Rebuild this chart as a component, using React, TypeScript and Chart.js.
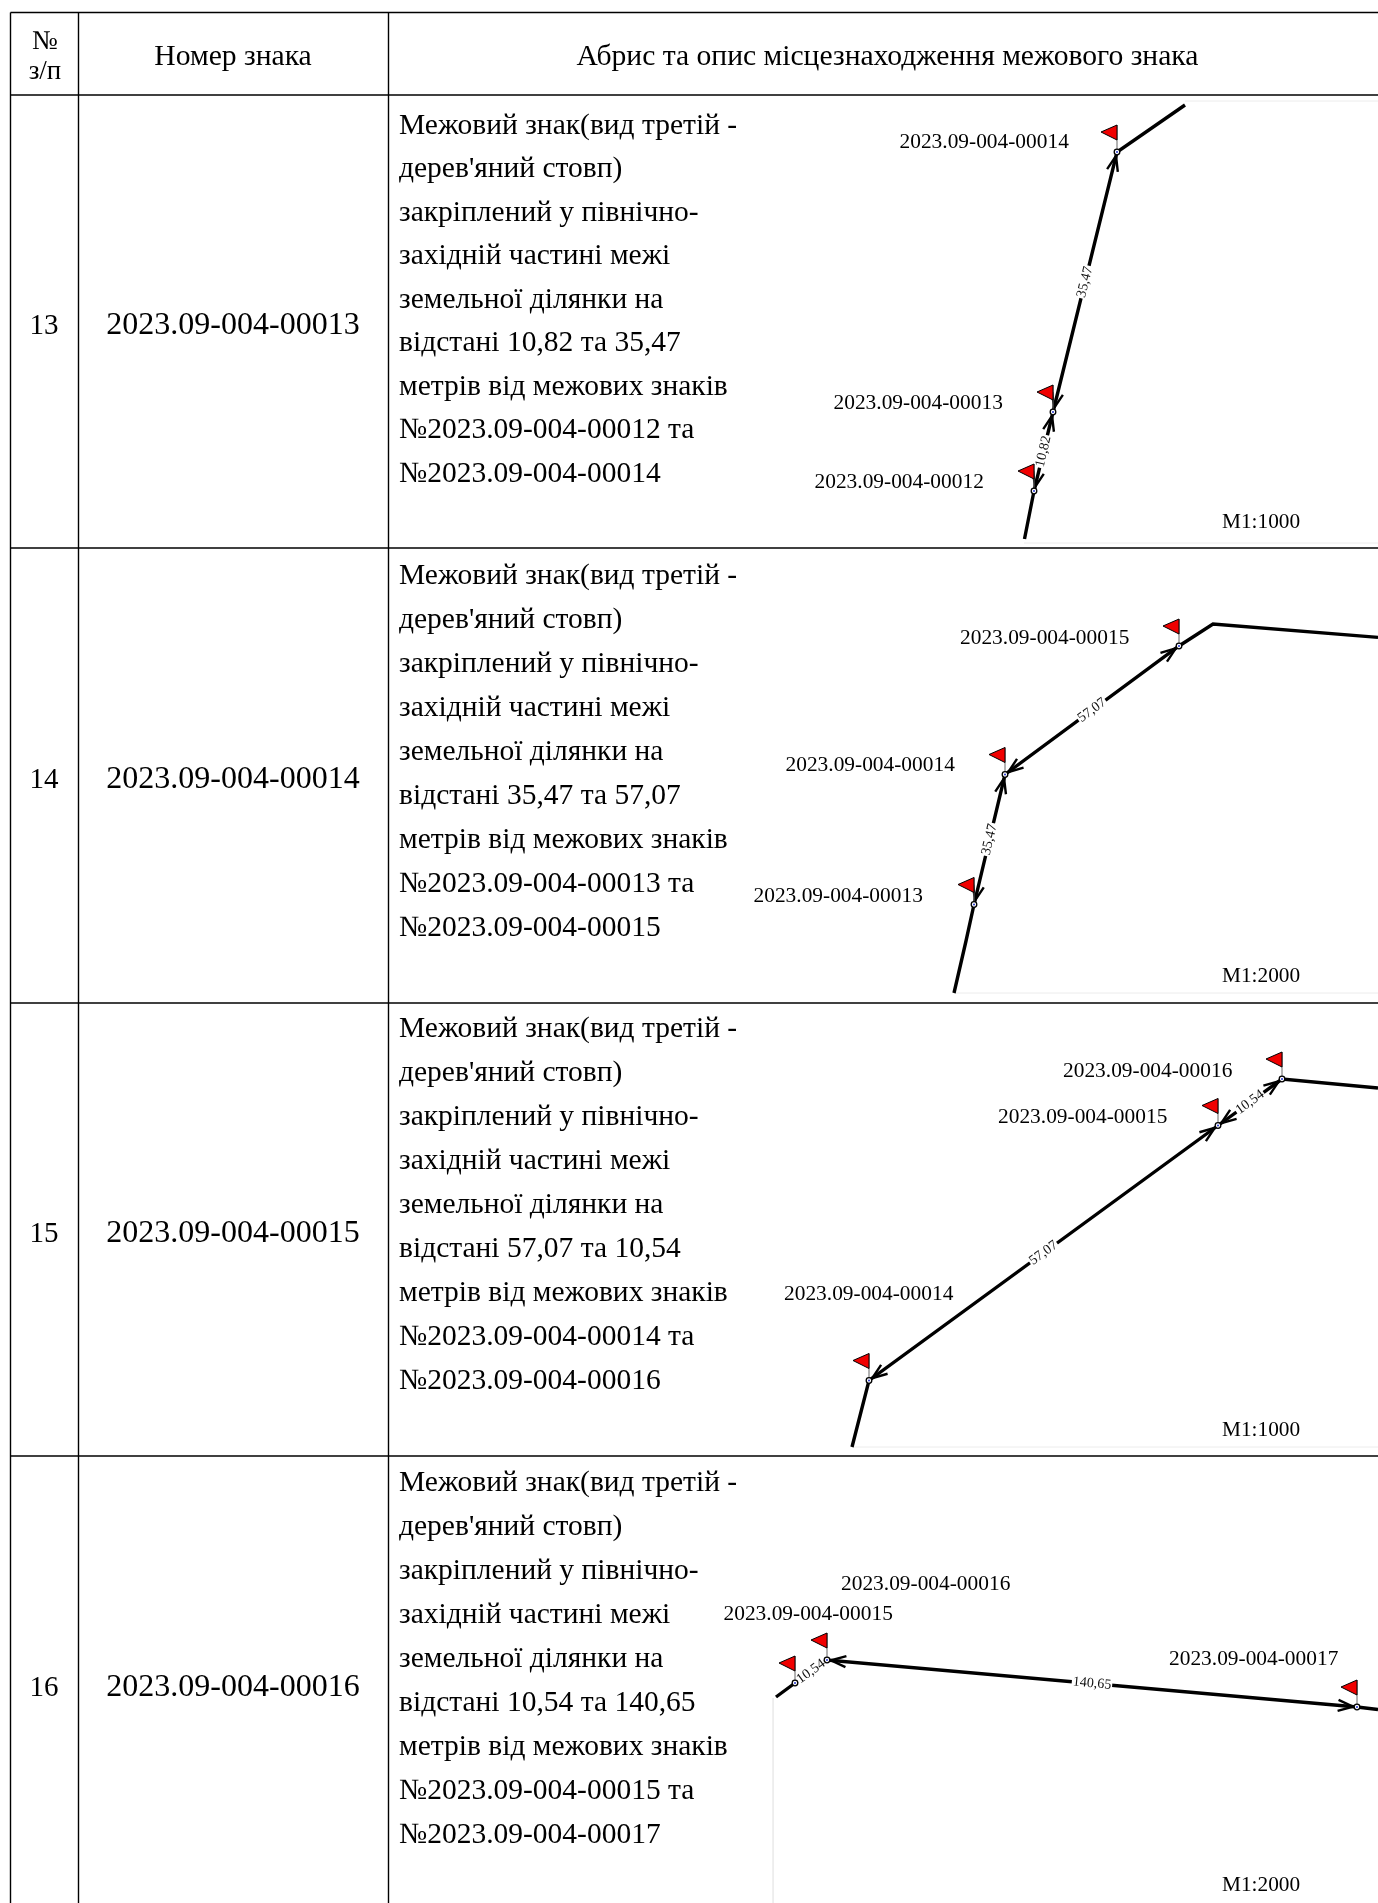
import React, { useEffect, useRef } from "react";
import { Chart, registerables } from "chart.js";

Chart.register(...registerables);

type P = [number, number];

// Table rules
const columnRules = [10.5, 78.5, 388.5];
const rowRules = [12.5, 95, 548, 1003, 1456];
const PAGE_W = 1378;
const PAGE_H = 1903;

// Header
const headNo = ["№", "з/п"];
const headMark = "Номер знака";
const headSketch = "Абрис та опис місцезнаходження межового знака";

// Row contents
const rowNumbers = ["13", "14", "15", "16"];
const rowCodes = ["2023.09-004-00013", "2023.09-004-00014", "2023.09-004-00015", "2023.09-004-00016"];
const rowCentres = [326, 780, 1234, 1688];
const textTops = [126, 576.5, 1029, 1483];
const textPitches = [43.5, 44, 44, 44];

const descriptions = [
  ["Межовий знак(вид третій -", "дерев'яний стовп)", "закріплений у північно-", "західній частині межі", "земельної ділянки на", "відстані 10,82 та 35,47", "метрів від межових знаків", "№2023.09-004-00012 та", "№2023.09-004-00014"],
  ["Межовий знак(вид третій -", "дерев'яний стовп)", "закріплений у північно-", "західній частині межі", "земельної ділянки на", "відстані 35,47 та 57,07", "метрів від межових знаків", "№2023.09-004-00013 та", "№2023.09-004-00015"],
  ["Межовий знак(вид третій -", "дерев'яний стовп)", "закріплений у північно-", "західній частині межі", "земельної ділянки на", "відстані 57,07 та 10,54", "метрів від межових знаків", "№2023.09-004-00014 та", "№2023.09-004-00016"],
  ["Межовий знак(вид третій -", "дерев'яний стовп)", "закріплений у північно-", "західній частині межі", "земельної ділянки на", "відстані 10,54 та 140,65", "метрів від межових знаків", "№2023.09-004-00015 та", "№2023.09-004-00017"],
];

// Boundary polylines
const boundary13: P[] = [[1024.5, 539], [1034, 491], [1053, 412], [1117, 152], [1185, 105]];
const boundary14: P[] = [[954, 993], [966, 941], [974, 904.5], [1005, 774.5], [1179, 646], [1213, 624], [1378, 637.4]];
const boundary15: P[] = [[852, 1447], [869, 1380.5], [1218, 1125.5], [1282, 1079], [1378, 1088]];
const boundary16: P[] = [[776, 1697], [795, 1683], [827, 1660], [1357, 1707], [1378, 1709.5]];
const boundaries = [boundary13, boundary14, boundary15, boundary16];

// Faint edges of the pasted sketches
const sketchEdges: P[][] = [
  [[1185, 101], [1378, 101]],
  [[1024, 543], [1378, 543]],
  [[954, 993], [1378, 993]],
  [[852, 1447], [1378, 1447]],
  [[773, 1698], [773, 1903]],
];

// Which vertices are boundary marks
const markVertices = [[1, 2, 3], [2, 3, 4], [1, 2, 3], [1, 2, 3]];

// Measured segments: start vertex, distance, arrowheads
const segStarts = [[1, 2], [2, 3], [1, 2], [1, 2]];
const segLabels = [["10,82", "35,47"], ["35,47", "57,07"], ["57,07", "10,54"], ["10,54", "140,65"]];
const segArrows = [[true, true], [true, true], [true, true], [false, true]];

// Mark captions
const markNames = [
  ["2023.09-004-00012", "2023.09-004-00013", "2023.09-004-00014"],
  ["2023.09-004-00013", "2023.09-004-00014", "2023.09-004-00015"],
  ["2023.09-004-00014", "2023.09-004-00015", "2023.09-004-00016"],
  ["2023.09-004-00015", "2023.09-004-00016", "2023.09-004-00017"],
];
const markNameAt: P[][] = [
  [[814.5, 482], [833.5, 403], [899.5, 142]],
  [[753.5, 896], [785.5, 765], [960, 638]],
  [[784, 1294], [998, 1117], [1063, 1071]],
  [[723.5, 1614], [841, 1584], [1169, 1659]],
];
const scales_ = ["M1:1000", "M1:2000", "M1:1000", "M1:2000"];
const scaleY = [522, 976, 1430, 1885];
const scaleX = 1222;

const SERIF = '"Liberation Serif", serif';

const tablePlugin = {
  id: "document",
  afterDatasetsDraw(chart: any) {
    const { ctx } = chart;
    const X = (v: number) => chart.scales.x.getPixelForValue(v);
    const Y = (v: number) => chart.scales.y.getPixelForValue(v);
    const text = (s: string, x: number, y: number, size: number, align: CanvasTextAlign = "left") => {
      ctx.font = `${size}px ${SERIF}`;
      ctx.textAlign = align;
      ctx.textBaseline = "middle";
      ctx.fillStyle = "#000";
      ctx.fillText(s, X(x), Y(y));
    };
    ctx.save();

    // header
    text(headNo[0], 45, 42, 27, "center");
    text(headNo[1], 45, 72, 27, "center");
    text(headMark, 233, 57, 29.6, "center");
    text(headSketch, 887.5, 57, 29.6, "center");

    boundaries.forEach((pts, r) => {
      text(rowNumbers[r], 44, rowCentres[r], 29, "center");
      text(rowCodes[r], 233, rowCentres[r], 32, "center");
      descriptions[r].forEach((line, i) => text(line, 399, textTops[r] + i * textPitches[r], 29.5));

      // measured segments: arrowheads then rotated distance labels
      segStarts[r].forEach((s, k) => {
        const a = pts[s];
        const b = pts[s + 1];
        const ax = X(a[0]), ay = Y(a[1]), bx = X(b[0]), by = Y(b[1]);
        const ang = Math.atan2(by - ay, bx - ax);
        if (segArrows[r][k]) {
          const head = (tx: number, ty: number, dir: number) => {
            ctx.save();
            ctx.translate(tx, ty);
            ctx.rotate(dir);
            ctx.strokeStyle = "#000";
            ctx.lineWidth = 2.4;
            ctx.beginPath();
            ctx.moveTo(-19, -5.5);
            ctx.lineTo(-4, 0);
            ctx.lineTo(-19, 5.5);
            ctx.stroke();
            ctx.restore();
          };
          head(ax, ay, ang + Math.PI);
          head(bx, by, ang);
        }
        const mx = (ax + bx) / 2, my = (ay + by) / 2;
        let tAng = ang;
        if (tAng > Math.PI / 2) tAng -= Math.PI;
        if (tAng < -Math.PI / 2) tAng += Math.PI;
        ctx.save();
        ctx.translate(mx, my);
        ctx.rotate(tAng);
        ctx.font = `14px ${SERIF}`;
        const w = ctx.measureText(segLabels[r][k]).width;
        ctx.fillStyle = "#fff";
        ctx.fillRect(-w / 2 - 1, -5, w + 2, 10);
        ctx.fillStyle = "#111";
        ctx.textAlign = "center";
        ctx.textBaseline = "middle";
        ctx.fillText(segLabels[r][k], 0, 0);
        ctx.restore();
      });

      // marks: stem, flag, node
      markVertices[r].forEach((v) => {
        const nx = X(pts[v][0]), ny = Y(pts[v][1]);
        ctx.strokeStyle = "#666";
        ctx.lineWidth = 1;
        ctx.beginPath();
        ctx.moveTo(nx, ny);
        ctx.lineTo(nx, ny - 27);
        ctx.stroke();
        ctx.fillStyle = "#f00000";
        ctx.strokeStyle = "#000";
        ctx.beginPath();
        ctx.moveTo(nx, ny - 27);
        ctx.lineTo(nx - 16, ny - 20);
        ctx.lineTo(nx, ny - 12);
        ctx.closePath();
        ctx.fill();
        ctx.stroke();
        ctx.beginPath();
        ctx.arc(nx, ny, 2.8, 0, Math.PI * 2);
        ctx.fillStyle = "#fff";
        ctx.fill();
        ctx.lineWidth = 1.3;
        ctx.strokeStyle = "#000";
        ctx.stroke();
        ctx.beginPath();
        ctx.arc(nx, ny, 1, 0, Math.PI * 2);
        ctx.fillStyle = "#2233cc";
        ctx.fill();
      });

      markNames[r].forEach((n, i) => text(n, markNameAt[r][i][0], markNameAt[r][i][1], 21.4));
      text(scales_[r], scaleX, scaleY[r], 21.3);
    });
    ctx.restore();
  },
};

export default function App() {
  const ref = useRef<HTMLCanvasElement>(null);
  useEffect(() => {
    document.body.style.margin = "0";
    const line = (data: P[], color: string, width: number, order = 1) => ({
      type: "line" as const,
      data: data.map(([x, y]) => ({ x, y })),
      borderColor: color,
      borderWidth: width,
      pointRadius: 0,
      fill: false,
      tension: 0,
      order,
    });
    const grid = [
      ...columnRules.map((x) => line([[x, rowRules[0]], [x, PAGE_H]], "#000", 1.4, 3)),
      ...rowRules.map((y) => line([[columnRules[0], y], [PAGE_W, y]], "#000", 1.4, 3)),
    ];
    const edges = sketchEdges.map((e) => line(e, "#ececec", 1, 4));
    const chart = new Chart(ref.current!, {
      type: "line",
      data: { datasets: [...edges, ...grid, ...boundaries.map((b) => line(b, "#000", 3.4, 2))] },
      options: {
        animation: false,
        responsive: false,
        devicePixelRatio: 1,
        parsing: false,
        layout: { padding: 0 },
        plugins: { legend: { display: false }, tooltip: { enabled: false } },
        scales: {
          x: { type: "linear", min: 0, max: PAGE_W, display: false },
          y: { type: "linear", min: 0, max: PAGE_H, reverse: true, display: false },
        },
      },
      plugins: [tablePlugin],
    } as any);
    return () => chart.destroy();
  }, []);
  return <canvas ref={ref} width={PAGE_W} height={PAGE_H} style={{ display: "block" }} />;
}
